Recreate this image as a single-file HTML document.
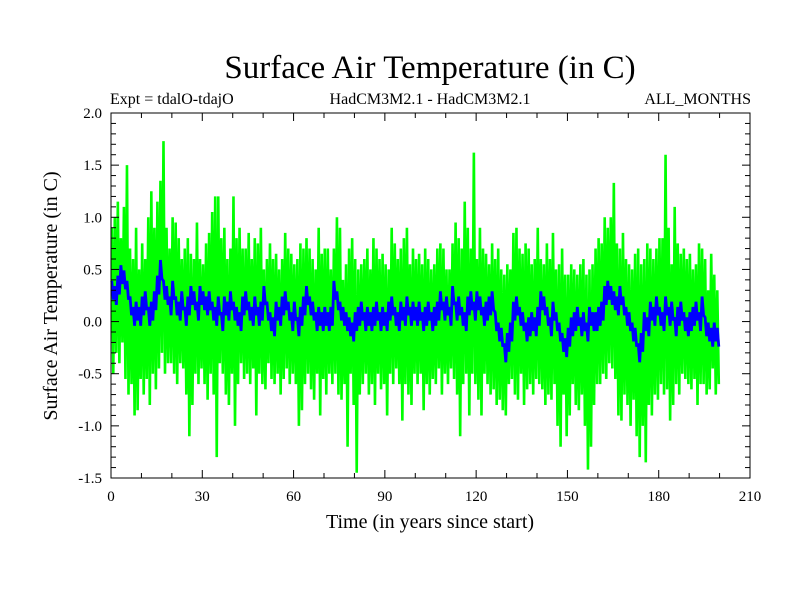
<!DOCTYPE html>
<html><head><meta charset="utf-8"><style>
html,body{margin:0;padding:0;background:#fff;}
svg{display:block;font-family:"Liberation Serif",serif;}
</style></head><body>
<svg id="chart" width="800" height="600" viewBox="0 0 800 600" xmlns="http://www.w3.org/2000/svg">
<rect width="800" height="600" fill="#fff"/>
<text x="430" y="78" font-size="33" text-anchor="middle">Surface Air Temperature (in C)</text>
<text x="110" y="104" font-size="16">Expt = tdalO-tdajO</text>
<text x="430" y="104" font-size="16" text-anchor="middle">HadCM3M2.1 - HadCM3M2.1</text>
<text x="751" y="104" font-size="16" text-anchor="end">ALL_MONTHS</text>
<text x="0" y="0" font-size="20" text-anchor="middle" transform="translate(57,296) rotate(-90)">Surface Air Temperature (in C)</text>
<text x="430" y="528" font-size="20" text-anchor="middle">Time (in years since start)</text>
<g id="plot"></g>
</svg>
<script>
const greenHi = [
0.9,1.0,1.15,0.8,1.1,1.5,0.7,0.6,0.9,0.5,
0.75,0.6,1.0,1.25,0.9,1.15,1.35,1.73,0.9,0.7,
1.0,0.95,0.8,0.6,0.7,0.8,0.65,0.6,0.95,0.6,
0.55,0.75,0.85,1.05,1.2,1.2,0.8,0.9,0.6,0.7,
1.2,0.8,0.9,0.7,0.7,0.85,0.6,0.8,0.75,0.9,
0.5,0.6,0.75,0.6,0.65,0.5,0.6,0.85,0.7,0.65,
0.55,0.6,0.75,0.7,0.8,0.7,0.6,0.5,0.9,0.65,
0.7,0.7,0.5,0.7,1.0,0.9,0.4,0.55,0.7,0.8,
0.6,0.5,0.55,0.6,0.7,0.5,0.8,0.7,0.6,0.65,
0.55,0.5,0.9,0.75,0.6,0.7,0.8,0.9,0.55,0.7,
0.6,0.65,0.55,0.7,0.6,0.5,0.55,0.7,0.75,0.7,
0.5,0.5,0.75,0.95,0.8,0.7,1.15,0.9,0.7,1.62,
0.6,0.9,0.7,0.65,0.55,0.75,0.6,0.7,0.5,0.45,
0.55,0.5,0.85,0.9,0.7,0.65,0.75,0.7,0.55,0.6,
0.9,0.6,0.55,0.75,0.6,0.85,0.5,0.55,0.7,0.45,
0.45,0.55,0.5,0.45,0.55,0.6,0.45,0.5,0.55,0.7,
0.8,0.75,1.0,0.9,1.0,1.33,0.75,0.7,0.85,0.6,
0.55,0.5,0.65,0.7,0.55,0.6,0.75,0.7,0.6,0.7,
0.8,0.8,1.6,0.9,0.55,1.1,0.75,0.65,0.7,0.6,
0.65,0.5,0.55,0.75,0.7,0.6,0.3,0.65,0.45,0.3];
const greenLo = [
-0.5,-0.3,-0.4,-0.2,-0.55,-0.7,-0.6,-0.9,-0.85,-0.55,
-0.7,-0.55,-0.8,-0.5,-0.65,-0.45,-0.3,-0.5,-0.4,-0.4,
-0.5,-0.6,-0.4,-0.45,-0.7,-1.1,-0.8,-0.5,-0.6,-0.45,
-0.6,-0.75,-0.5,-0.7,-1.3,-0.4,-0.5,-0.7,-0.8,-0.5,
-1.0,-0.6,-0.4,-0.55,-0.5,-0.6,-0.45,-0.9,-0.5,-0.6,
-0.65,-0.4,-0.55,-0.6,-0.5,-0.7,-0.55,-0.45,-0.6,-0.5,
-0.6,-1.0,-0.85,-0.6,-0.5,-0.65,-0.75,-0.5,-0.9,-0.55,
-0.7,-0.5,-0.6,-0.5,-0.7,-0.75,-0.6,-1.2,-0.5,-0.8,
-1.45,-0.7,-0.6,-0.5,-0.7,-0.6,-0.8,-0.5,-0.65,-0.6,
-0.9,-0.5,-0.6,-0.45,-0.6,-0.95,-0.6,-0.7,-0.8,-0.5,
-0.6,-0.5,-0.85,-0.6,-0.7,-0.55,-0.6,-0.45,-0.7,-0.5,
-0.6,-0.45,-0.55,-0.7,-1.1,-0.6,-0.5,-0.9,-0.5,-0.6,
-0.75,-0.9,-0.5,-0.6,-0.7,-0.65,-0.8,-0.75,-0.85,-0.9,
-0.6,-0.55,-0.7,-0.75,-0.5,-0.8,-0.65,-0.6,-0.7,-0.55,
-0.6,-0.65,-0.8,-0.7,-0.75,-0.6,-1.0,-1.2,-0.7,-1.1,
-0.9,-0.6,-0.8,-0.85,-0.7,-1.0,-1.42,-1.2,-0.8,-0.6,
-0.6,-0.5,-0.55,-0.4,-0.45,-0.55,-0.9,-0.95,-0.7,-0.8,
-1.0,-0.75,-1.1,-1.3,-1.0,-1.35,-0.8,-0.9,-0.7,-0.75,
-0.6,-0.7,-0.65,-0.95,-0.8,-0.6,-0.7,-0.5,-0.55,-0.6,
-0.65,-0.55,-0.8,-0.6,-0.6,-0.7,-0.65,-0.45,-0.7,-0.6];
const blueMean = [
0.3,0.25,0.35,0.45,0.4,0.3,0.15,0.05,0.1,0.05,
0.15,0.2,0.05,0.1,0.2,0.35,0.5,0.3,0.25,0.15,
0.3,0.15,0.1,0.2,0.05,0.15,0.25,0.2,0.1,0.25,
0.2,0.15,0.2,0.1,0.05,0.15,0.0,0.15,0.1,0.2,
0.1,0.05,0.0,0.15,0.2,0.1,0.05,0.15,0.05,0.1,
0.25,0.1,0.0,-0.05,0.1,0.05,0.15,0.2,0.1,0.0,
0.1,-0.05,0.05,0.15,0.25,0.15,0.1,0.0,0.05,0.0,
0.05,0.0,0.05,0.3,0.2,0.1,0.05,0.0,-0.05,-0.1,
0.0,0.05,0.1,0.0,0.05,0.0,0.05,0.1,0.0,0.05,
0.0,0.1,0.15,0.05,0.0,0.1,0.05,0.15,0.05,0.1,
0.05,0.1,0.0,0.05,0.1,0.0,0.05,0.1,0.2,0.1,
0.15,0.05,0.25,0.1,0.15,0.05,0.0,0.15,0.2,0.1,
0.2,0.15,0.05,0.1,0.15,0.2,0.0,-0.1,-0.15,-0.3,
-0.2,-0.1,0.1,0.15,0.05,0.0,-0.1,-0.05,0.0,-0.05,
0.05,0.2,0.15,0.05,-0.05,0.1,0.0,-0.1,-0.2,-0.25,
-0.15,-0.05,0.0,0.05,-0.05,0.0,-0.1,0.05,0.0,0.0,
0.05,0.1,0.25,0.3,0.25,0.2,0.15,0.25,0.15,0.05,
0.0,-0.1,-0.15,-0.3,-0.2,0.0,-0.05,0.1,0.05,0.15,
0.05,0.0,0.15,0.05,0.1,-0.05,0.05,0.1,0.0,-0.05,
0.0,0.05,0.1,0.0,0.15,-0.05,-0.1,-0.15,-0.1,-0.15];
const blueSpread = 0.09;
const xTicks = [0,30,60,90,120,150,180,210];
const yTicks = [-1.5,-1.0,-0.5,0.0,0.5,1.0,1.5,2.0];

const L=111,R=750,T=113,B=478, XMIN=0,XMAX=210,YMIN=-1.5,YMAX=2.0;
const sx=v=>L+(v-XMIN)/(XMAX-XMIN)*(R-L);
const sy=v=>B-(v-YMIN)/(YMAX-YMIN)*(B-T);
const NS="http://www.w3.org/2000/svg";
const plot=document.getElementById('plot');
function mk(tag,attrs,parent){const e=document.createElementNS(NS,tag);for(const k in attrs)e.setAttribute(k,attrs[k]);(parent||plot).appendChild(e);return e;}

let gp=[];
for(let i=0;i<greenHi.length;i++){
  gp.push(sx(i+0.25).toFixed(2)+','+sy(greenHi[i]).toFixed(2));
  gp.push(sx(i+0.75).toFixed(2)+','+sy(greenLo[i]).toFixed(2));
}
const g=mk('polyline',{points:gp.join(' '),fill:'none',stroke:'#00ff00','stroke-width':2.6,'stroke-linejoin':'bevel'});



let bp=[];
for(let i=0;i<blueMean.length;i++){
  bp.push(sx(i+0.25).toFixed(2)+','+sy(blueMean[i]+blueSpread).toFixed(2));
  bp.push(sx(i+0.75).toFixed(2)+','+sy(blueMean[i]-blueSpread).toFixed(2));
}
const b=mk('polyline',{points:bp.join(' '),fill:'none',stroke:'#0000ff','stroke-width':2.8,'stroke-linejoin':'bevel'});



const frame=mk('rect',{x:L,y:T,width:R-L,height:B-T,fill:'none',stroke:'#000','stroke-width':1});



for(let k=0;k<=35;k++){
  const v=YMIN+k*0.1, y=sy(v), major=(k%5===0), len=major?8:5;
  mk('line',{x1:L,y1:y,x2:L+len,y2:y,stroke:'#000','stroke-width':1});
  mk('line',{x1:R,y1:y,x2:R-len,y2:y,stroke:'#000','stroke-width':1});
}
for(let k=0;k<=21;k++){
  const x=sx(k*10), major=(k%3===0), len=major?8:5;
  mk('line',{x1:x,y1:B,x2:x,y2:B-len,stroke:'#000','stroke-width':1});
  mk('line',{x1:x,y1:T,x2:x,y2:T+len,stroke:'#000','stroke-width':1});
}
yTicks.forEach(v=>{
  const t=mk('text',{x:L-9,y:sy(v)+5,'font-size':15,'text-anchor':'end'});
  t.textContent=v.toFixed(1);
  
  
});
xTicks.forEach(v=>{
  const t=mk('text',{x:sx(v),y:B+23,'font-size':15,'text-anchor':'middle'});
  t.textContent=String(v);
  
  
});
</script>
</body></html>
